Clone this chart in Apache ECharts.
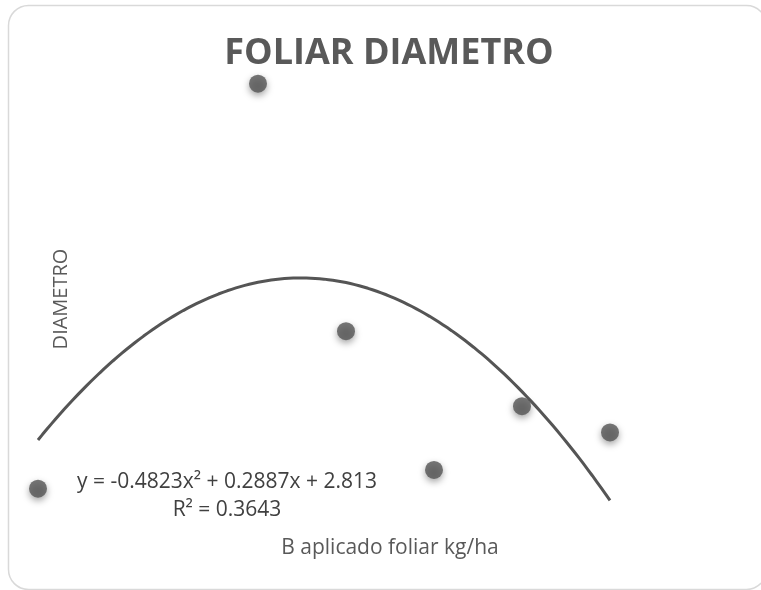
<!DOCTYPE html>
<html>
<head>
<meta charset="utf-8">
<style>
  html, body { margin: 0; padding: 0; background: #ffffff; }
  #chart { width: 761px; height: 590px; }
</style>
<script src="https://cdn.jsdelivr.net/npm/echarts@6/dist/echarts.min.js"></script>
</head>
<body>
<div id="chart"></div>
<script>
// Foliar boron dose (kg/ha) and measured diameter
const doses = [0, 0.25, 0.35, 0.45, 0.55, 0.65];
const diameters = [2.800, 2.908, 2.842, 2.805, 2.822, 2.815];

// Polynomial trendline (order 2): y = a*x^2 + b*x + c
const trendCoef = [-0.4823, 0.2887, 2.813];
const trendR2 = 0.3643;

const titleText = 'FOLIAR DIAMETRO';
const xTitle = 'B aplicado foliar kg/ha';
const yTitle = 'DIAMETRO';

const points = doses.map((d, i) => [d, diameters[i]]);

// Trendline sampled across the dose range
const xMin = Math.min(...doses), xMax = Math.max(...doses);
const trend = [];
const steps = 130;
for (let i = 0; i <= steps; i++) {
  const x = xMin + (xMax - xMin) * i / steps;
  trend.push([x, trendCoef[0] * x * x + trendCoef[1] * x + trendCoef[2]]);
}

const eqText = 'y = ' + trendCoef[0] + 'x\u00B2 + ' + trendCoef[1] + 'x + ' + trendCoef[2];
const r2Text = 'R\u00B2 = ' + trendR2;

const font = '"Open Sans", "Liberation Sans", sans-serif';
const chart = echarts.init(document.getElementById('chart'), null, { renderer: 'canvas' });

chart.setOption({
  backgroundColor: '#ffffff',
  animation: false,
  grid: { left: 38, top: 38.7, width: 616, height: 525 },
  xAxis: {
    type: 'value', min: 0, max: 0.7,
    axisLine: { show: false }, axisTick: { show: false },
    axisLabel: { show: false }, splitLine: { show: false }
  },
  yAxis: {
    type: 'value', min: 2.78, max: 2.92,
    axisLine: { show: false }, axisTick: { show: false },
    axisLabel: { show: false }, splitLine: { show: false }
  },
  series: [
    {
      type: 'scatter',
      data: points,
      symbolSize: 18,
      z: 2,
      itemStyle: {
        color: '#555555',
        shadowBlur: 7,
        shadowColor: 'rgba(0,0,0,0.45)',
        shadowOffsetY: 3
      }
    },
    {
      type: 'line',
      data: trend,
      showSymbol: false,
      smooth: false,
      z: 3,
      lineStyle: { color: '#555555', width: 3 }
    }
  ],
  graphic: [
    {
      type: 'rect', silent: true, z: -1,
      shape: { x: 8.5, y: 5.5, width: 758, height: 584, r: 20 },
      style: { fill: '#ffffff', stroke: '#d9d9d9', lineWidth: 1.5 }
    },
    {
      type: 'text', x: 389, y: 54, z: 10,
      style: {
        text: titleText, fill: '#595959', font: 'bold 36px ' + font,
        textAlign: 'center', textVerticalAlign: 'middle'
      }
    },
    {
      type: 'text', x: 61, y: 299, rotation: Math.PI / 2, z: 10,
      style: {
        text: yTitle, fill: '#595959', font: '20px ' + font,
        textAlign: 'center', textVerticalAlign: 'middle'
      }
    },
    {
      type: 'text', x: 390, y: 548, z: 10,
      style: {
        text: xTitle, fill: '#595959', font: '21px ' + font,
        textAlign: 'center', textVerticalAlign: 'middle'
      }
    },
    {
      type: 'text', x: 227, y: 482, z: 10,
      style: {
        text: eqText, fill: '#404040', font: '21px ' + font,
        textAlign: 'center', textVerticalAlign: 'middle'
      }
    },
    {
      type: 'text', x: 227, y: 510, z: 10,
      style: {
        text: r2Text, fill: '#404040', font: '21px ' + font,
        textAlign: 'center', textVerticalAlign: 'middle'
      }
    }
  ]
});
</script>
</body>
</html>
